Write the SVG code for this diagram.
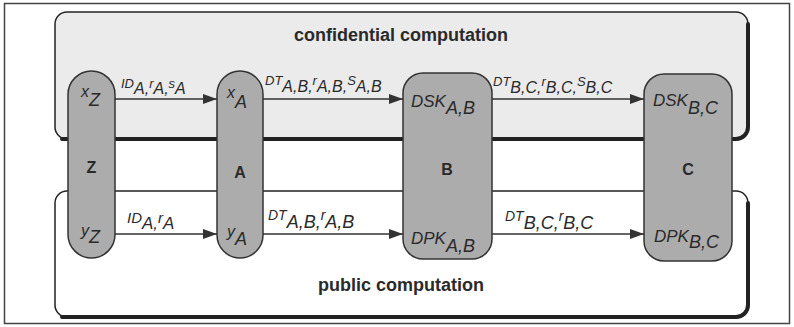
<svg xmlns="http://www.w3.org/2000/svg" width="794" height="327" viewBox="0 0 794 327">
<style>
.frame{fill:#fff;stroke:#444;stroke-width:1.5}
.region{stroke:#222;stroke-width:1.5}
.shadow{fill:none;stroke:#222;stroke-width:4;stroke-linecap:round}
.node{fill:#acacac;stroke:#333;stroke-width:1.5}
.edge{fill:none;stroke:#333;stroke-width:1.5}
.it{font-family:"Liberation Sans",Arial,Helvetica,sans-serif;font-style:italic;fill:#2a2a2a}
.bold{font-family:"Liberation Sans",Arial,Helvetica,sans-serif;font-weight:bold;fill:#2a2a2a}
.t{font-size:18px;text-anchor:middle}
.nb{font-size:16px;text-anchor:middle}
.nl{font-size:17px}
.el{font-size:13px}
.s{font-size:16px}
</style>
<defs>
<marker id="ah" viewBox="0 0 14 10" refX="14" refY="5" markerWidth="14" markerHeight="10" markerUnits="userSpaceOnUse" orient="auto">
<path d="M0,0 L14,5 L0,10 Z" fill="#333"/>
</marker>
</defs>
<rect class="frame" x="4.5" y="3.5" width="785" height="320"/>
<g id="confidential">
<rect class="region" x="55" y="12" width="693" height="127" rx="12" fill="#ebebeb"/>
<path class="shadow" d="M62 139 H736 A12 12 0 0 0 748 127 V24"/>
<text class="bold t" x="401" y="41">confidential computation</text>
</g>
<g id="public">
<rect class="region" x="55" y="191" width="693" height="126" rx="12" fill="#fff"/>
<path class="shadow" d="M62 317 H736 A12 12 0 0 0 748 305 V203"/>
<text class="bold t" x="401" y="291">public computation</text>
</g>
<g id="connectors">
<line class="edge" x1="115" y1="99" x2="217" y2="99" marker-end="url(#ah)"/>
<line class="edge" x1="263" y1="99" x2="403" y2="99" marker-end="url(#ah)"/>
<line class="edge" x1="492" y1="99" x2="644" y2="99" marker-end="url(#ah)"/>
<line class="edge" x1="115" y1="234" x2="217" y2="234" marker-end="url(#ah)"/>
<line class="edge" x1="263" y1="234" x2="403" y2="234" marker-end="url(#ah)"/>
<line class="edge" x1="492" y1="234" x2="644" y2="234" marker-end="url(#ah)"/>
<text class="it el" x="121" y="88">ID<tspan class="s" dy="6">A,</tspan><tspan dy="-6">r</tspan><tspan class="s" dy="6">A,</tspan><tspan dy="-6">s</tspan><tspan class="s" dy="6">A</tspan></text>
<text class="it el" x="265" y="85">DT<tspan class="s" dy="7">A,B,</tspan><tspan dy="-7">r</tspan><tspan class="s" dy="7">A,B,</tspan><tspan dy="-7">S</tspan><tspan class="s" dy="7">A,B</tspan></text>
<text class="it el" x="493" y="86">DT<tspan class="s" dy="7">B,C,</tspan><tspan dy="-7">r</tspan><tspan class="s" dy="7">B,C,</tspan><tspan dy="-7">S</tspan><tspan class="s" dy="7">B,C</tspan></text>
<text class="it" font-size="15" x="127" y="223">ID<tspan font-size="17" dy="6">A,</tspan><tspan dy="-6">r</tspan><tspan font-size="17" dy="6">A</tspan></text>
<text class="it" font-size="14" x="268" y="220">DT<tspan font-size="18" dy="8">A,B,</tspan><tspan dy="-8">r</tspan><tspan font-size="18" dy="8">A,B</tspan></text>
<text class="it" font-size="14" x="505" y="221">DT<tspan font-size="18" dy="8">B,C,</tspan><tspan dy="-8">r</tspan><tspan font-size="18" dy="8">B,C</tspan></text>
</g>
<g id="node-Z">
<rect class="node" x="68" y="71" width="47" height="187" rx="23.5"/>
<text class="it" font-size="16" x="81" y="97">x<tspan font-size="18" dy="9">Z</tspan></text>
<text class="bold nb" x="91.5" y="173">Z</text>
<text class="it" font-size="16" x="81" y="236">y<tspan font-size="18" dy="7">Z</tspan></text>
</g>
<g id="node-A">
<rect class="node" x="217" y="71" width="46" height="187" rx="23"/>
<text class="it" font-size="16" x="227" y="98">x<tspan font-size="18" dy="10">A</tspan></text>
<text class="bold nb" x="240" y="178">A</text>
<text class="it" font-size="16" x="227" y="237">y<tspan font-size="18" dy="8">A</tspan></text>
</g>
<g id="node-B">
<rect class="node" x="403" y="73" width="89" height="186" rx="20"/>
<text class="it nl" x="411" y="107">DSK<tspan font-size="18" dy="7">A,B</tspan></text>
<text class="bold nb" x="447" y="175">B</text>
<text class="it nl" x="411" y="244">DPK<tspan font-size="18" dy="8">A,B</tspan></text>
</g>
<g id="node-C">
<rect class="node" x="644" y="74" width="88" height="187" rx="20"/>
<text class="it nl" x="653" y="106">DSK<tspan font-size="18" dy="8">B,C</tspan></text>
<text class="bold nb" x="688" y="175">C</text>
<text class="it nl" x="654" y="242">DPK<tspan font-size="18" dy="6">B,C</tspan></text>
</g>
</svg>
